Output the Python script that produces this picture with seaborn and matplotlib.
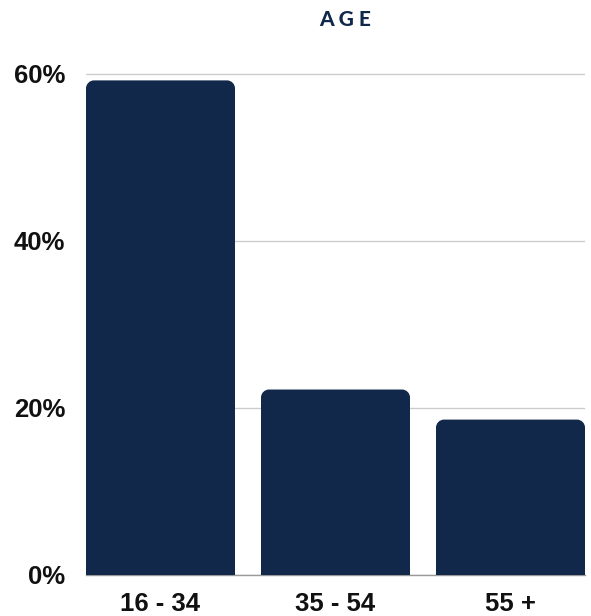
import matplotlib
matplotlib.use("Agg")
import matplotlib.pyplot as plt
import seaborn as sns
import pandas as pd
from matplotlib.path import Path
from matplotlib.patches import PathPatch

# data
age_groups = ["16 - 34", "35 - 54", "55 +"]
share_pct = [59.2, 22.2, 18.6]
y_ticks = [0, 20, 40, 60]

navy = "#11284a"

df = pd.DataFrame({"age": age_groups, "share": share_pct})

sns.set_theme(style="white")
plt.rcParams["font.family"] = ["Liberation Sans", "DejaVu Sans"]

fig = plt.figure(figsize=(5.91, 6.16), dpi=100)
W, H = 591, 616
ax = fig.add_axes([86 / W, 41 / H, 499 / W, (575 - 57) / H])

bw = 149 / 175
sns.barplot(data=df, x="age", y="share", color=navy, width=bw, ax=ax,
            saturation=1, zorder=3)

ax.set_xlim(-bw / 2, 2 + bw / 2)
ax.set_ylim(0, 62)

# swap square bars for bars with rounded top corners
px_x = 175.0
px_y = (575 - 57) / 62.0
r = 8.0
rx, ry = r / px_x, r / px_y
k = 0.5523
for p in list(ax.patches):
    x0, y0 = p.get_x(), p.get_y()
    x1, y1 = x0 + p.get_width(), y0 + p.get_height()
    verts = [
        (x0, y0), (x0, y1 - ry),
        (x0, y1 - ry + k * ry), (x0 + rx - k * rx, y1), (x0 + rx, y1),
        (x1 - rx, y1),
        (x1 - rx + k * rx, y1), (x1, y1 - ry + k * ry), (x1, y1 - ry),
        (x1, y0), (x0, y0),
    ]
    codes = [Path.MOVETO, Path.LINETO,
             Path.CURVE4, Path.CURVE4, Path.CURVE4,
             Path.LINETO,
             Path.CURVE4, Path.CURVE4, Path.CURVE4,
             Path.LINETO, Path.CLOSEPOLY]
    ax.add_patch(PathPatch(Path(verts, codes), facecolor=navy,
                           edgecolor="none", zorder=3))
    p.remove()

ax.set_yticks(y_ticks)
ax.set_yticklabels([f"{v}%" for v in y_ticks])
ax.yaxis.grid(True, color="#cccccc", linewidth=1, zorder=0)
ax.tick_params(axis="y", length=0, pad=15, labelsize=18.5, labelcolor="#111111")
ax.tick_params(axis="x", length=0, pad=12, labelsize=18.5, labelcolor="#111111")
for lab in ax.get_xticklabels() + ax.get_yticklabels():
    lab.set_fontweight("bold")
ax.set_xlabel("")
ax.set_ylabel("")

for s in ["top", "right", "left"]:
    ax.spines[s].set_visible(False)
ax.spines["bottom"].set_color("#999999")
ax.spines["bottom"].set_linewidth(1)

fig.text(345 / W, 1 - 20 / H, "A G E", ha="center", va="center",
         fontsize=15, fontweight="black", color=navy, family=["Lato", "DejaVu Sans"])

fig.savefig("out.png", dpi=100, facecolor="white")
